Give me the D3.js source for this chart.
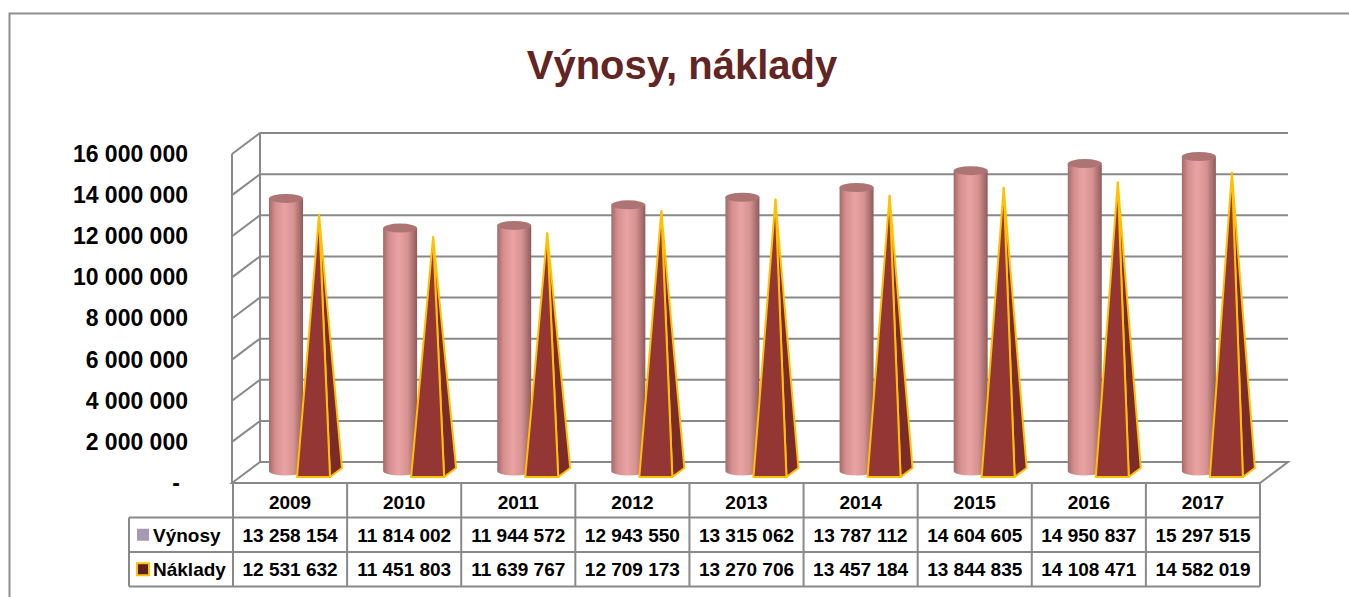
<!DOCTYPE html>
<html>
<head>
<meta charset="utf-8">
<script src="https://cdn.jsdelivr.net/npm/d3@7"></script>
<style>
  body { margin: 0; background: #fff; }
  svg text { font-family: "Liberation Sans", Arial, sans-serif; font-weight: bold; }
</style>
</head>
<body>
<div id="chart"></div>
<script>
"use strict";

/* Chart data */
const categories = ["2009", "2010", "2011", "2012", "2013", "2014", "2015", "2016", "2017"];
const seriesNames = ["Výnosy", "Náklady"];
const vynosy = [13258154, 11814002, 11944572, 12943550, 13315062, 13787112, 14604605, 14950837, 15297515];
const naklady = [12531632, 11451803, 11639767, 12709173, 13270706, 13457184, 13844835, 14108471, 14582019];
const yTicks = [0, 2000000, 4000000, 6000000, 8000000, 10000000, 12000000, 14000000, 16000000];

const width = 1349, height = 597;
const depth = {dx: 28, dy: -21};
const grid = "#898989";

const loc = d3.formatLocale({decimal: ",", thousands: " ", grouping: [3], currency: ["", ""]});
const fmt = loc.format(",d");

const svg = d3.select("#chart").append("svg")
    .attr("width", width)
    .attr("height", height);

/* Gradient for the cylinders */
const defs = svg.append("defs");
const grad = defs.append("linearGradient").attr("id", "cyl")
    .attr("x1", "0%").attr("x2", "100%").attr("y1", "0%").attr("y2", "0%");
[["0%", "#a46a69"], ["18%", "#d38e8d"], ["45%", "#e9a3a2"], ["72%", "#d69392"], ["100%", "#8f5b5a"]]
  .forEach(function(s) { grad.append("stop").attr("offset", s[0]).attr("stop-color", s[1]); });

/* Outer frame (cut off on the right and bottom) */
svg.append("rect")
    .attr("x", 9.5).attr("y", 13.5)
    .attr("width", 1400).attr("height", 700)
    .attr("fill", "none").attr("stroke", "#8f8f8f").attr("stroke-width", 2);

/* Title */
svg.append("text")
    .attr("x", 682).attr("y", 79)
    .attr("text-anchor", "middle")
    .attr("font-size", 40)
    .attr("fill", "#632523")
    .text("Výnosy, náklady");

/* Scales */
const x = d3.scaleBand().domain(categories).range([233, 1260]);
const yFront = d3.scaleLinear().domain([0, 16000000]).range([483, 154]);
const yBar = d3.scaleLinear().domain([0, 16000000]).range([471, 142]);
const yPyr = d3.scaleLinear().domain([0, 16000000]).range([472.5, 143.5]);
const xLeft = 232, xRight = 1260;

/* Walls and gridlines */
const walls = svg.append("g").attr("stroke", grid).attr("stroke-width", 2).attr("fill", "none");
walls.selectAll(".grid")
    .data(yTicks.slice(1))
  .enter().append("polyline")
    .attr("class", "grid")
    .attr("points", function(d) {
      let yf = yFront(d);
      return [[xLeft, yf], [xLeft + depth.dx, yf + depth.dy], [xRight + depth.dx, yf + depth.dy]].join(" ");
    });
walls.append("line")
    .attr("x1", xLeft).attr("x2", xLeft)
    .attr("y1", yFront(16000000)).attr("y2", yFront(0));
walls.append("line")
    .attr("x1", xLeft + depth.dx).attr("x2", xLeft + depth.dx)
    .attr("y1", yFront(16000000) + depth.dy).attr("y2", yFront(0) + depth.dy);
/* Floor */
walls.append("polygon")
    .attr("points", [[xLeft, yFront(0)], [xLeft + depth.dx, yFront(0) + depth.dy],
      [xRight + depth.dx, yFront(0) + depth.dy], [xRight, yFront(0)]].join(" "));

/* Y axis labels */
const yAxis = svg.append("g")
    .attr("transform", "translate(" + xLeft + ",0)")
    .call(d3.axisLeft(yFront).tickValues(yTicks).tickSize(0).tickPadding(44)
      .tickFormat(function(d) { return d === 0 ? "-" : fmt(d); }));
yAxis.select(".domain").remove();
yAxis.selectAll("text")
    .attr("font-size", 23)
    .attr("font-family", null)
    .attr("fill", "#000")
    .attr("dx", function(d) { return d === 0 ? -8 : 0; });

/* Series positions inside a category */
const bw = x.bandwidth();
const cylX = 53, cylRx = 17, cylRy = 4.5;

/* Cylinders (Výnosy) */
const cyl = svg.append("g").selectAll("g")
    .data(vynosy)
  .enter().append("g");
cyl.append("path")
    .attr("fill", "url(#cyl)")
    .attr("d", function(d, i) {
      let cx = x(categories[i]) + cylX, yt = yBar(d), yb = yBar(0);
      return "M" + (cx - cylRx) + "," + yt + "L" + (cx - cylRx) + "," + yb +
        "A" + cylRx + "," + cylRy + " 0 0 0 " + (cx + cylRx) + "," + yb +
        "L" + (cx + cylRx) + "," + yt + "Z";
    });
cyl.append("ellipse")
    .attr("cx", function(d, i) { return x(categories[i]) + cylX; })
    .attr("cy", function(d) { return yBar(d); })
    .attr("rx", cylRx).attr("ry", cylRy)
    .attr("fill", "#ae7473");

/* Pyramids (Náklady) */
const pyr = svg.append("g").selectAll("g")
    .data(naklady)
  .enter().append("g")
    .attr("stroke", "#ffc000").attr("stroke-width", 2).attr("stroke-linejoin", "round");
pyr.append("polygon")
    .attr("fill", "#7b2b2a")
    .attr("points", function(d, i) {
      let x0 = x(categories[i]);
      return [[x0 + 97, 477], [x0 + 109, 468], [x0 + 86, yPyr(d)]].join(" ");
    });
pyr.append("polygon")
    .attr("fill", "#943634")
    .attr("points", function(d, i) {
      let x0 = x(categories[i]);
      return [[x0 + 64, 477], [x0 + 97, 477], [x0 + 86, yPyr(d)]].join(" ");
    });

/* Data table */
const rowY = [483, 517.5, 552, 586.5];
const legendX = 129;
const table = svg.append("g").attr("stroke", grid).attr("stroke-width", 2);
table.append("line").attr("x1", legendX).attr("x2", xRight).attr("y1", rowY[1]).attr("y2", rowY[1]);
table.append("line").attr("x1", legendX).attr("x2", xRight).attr("y1", rowY[2]).attr("y2", rowY[2]);
table.append("line").attr("x1", legendX).attr("x2", xRight).attr("y1", rowY[3]).attr("y2", rowY[3]);
table.append("line").attr("x1", legendX).attr("x2", legendX).attr("y1", rowY[1]).attr("y2", rowY[3]);
table.selectAll(".col")
    .data(categories.concat(["end"]))
  .enter().append("line")
    .attr("class", "col")
    .attr("x1", function(d, i) { return x.range()[0] + i * bw; })
    .attr("x2", function(d, i) { return x.range()[0] + i * bw; })
    .attr("y1", rowY[0]).attr("y2", rowY[3]);

const tableText = svg.append("g").attr("font-size", 19).attr("fill", "#000").attr("text-anchor", "middle");
tableText.selectAll(".cat")
    .data(categories)
  .enter().append("text")
    .attr("x", function(d) { return x(d) + bw / 2; })
    .attr("y", (rowY[0] + rowY[1]) / 2 + 9)
    .text(function(d) { return d; });
[vynosy, naklady].forEach(function(values, r) {
  tableText.selectAll(".v" + r)
      .data(values)
    .enter().append("text")
      .attr("x", function(d, i) { return x(categories[i]) + bw / 2; })
      .attr("y", (rowY[r + 1] + rowY[r + 2]) / 2 + 7)
      .text(function(d) { return fmt(d); });
});

/* Legend keys in the table */
const keyColors = [{fill: "#a798b3", stroke: "none"}, {fill: "#5c1f1f", stroke: "#ffc000"}];
seriesNames.forEach(function(name, r) {
  let cy = (rowY[r + 1] + rowY[r + 2]) / 2;
  svg.append("rect")
      .attr("x", 137).attr("y", cy - 6)
      .attr("width", 12).attr("height", 12)
      .attr("fill", keyColors[r].fill)
      .attr("stroke", keyColors[r].stroke).attr("stroke-width", 2);
  svg.append("text")
      .attr("x", 153).attr("y", cy + 7)
      .attr("font-size", 19)
      .text(name);
});
</script>
</body>
</html>
